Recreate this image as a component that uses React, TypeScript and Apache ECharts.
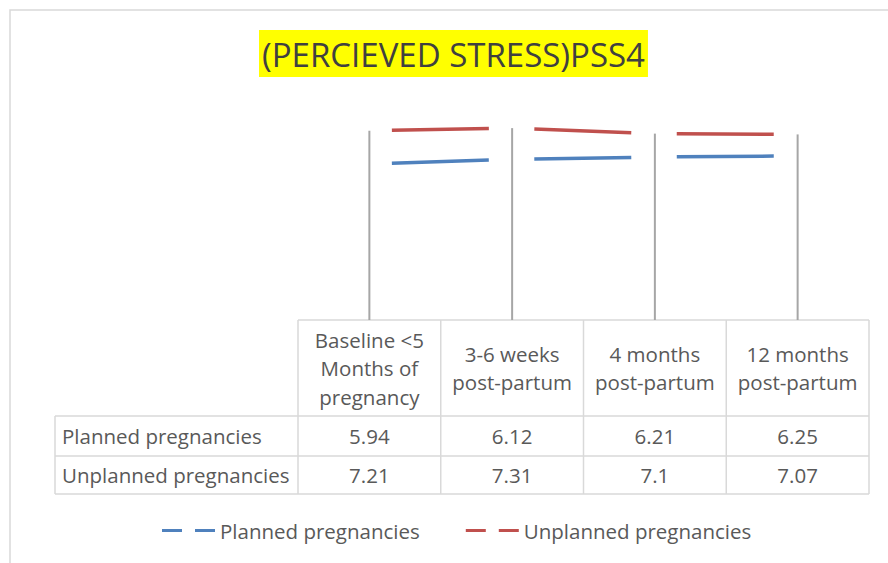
import React, { useEffect, useRef } from "react";
import * as echarts from "echarts";

const TITLE = "(PERCIEVED STRESS)PSS4";
const categories = [
  "Baseline <5\nMonths of\npregnancy",
  "3-6 weeks\npost-partum",
  "4 months\npost-partum",
  "12 months\npost-partum",
];
const seriesNames = ["Planned pregnancies", "Unplanned pregnancies"];
const planned = [5.94, 6.12, 6.21, 6.25];
const unplanned = [7.21, 7.31, 7.1, 7.07];
const tableLabels = ["5.94", "6.12", "6.21", "6.25"];
const tableLabels2 = ["7.21", "7.31", "7.1", "7.07"];

const W = 888;
const H = 563;
const FONT = "'Open Sans', sans-serif";
const TEXT = "#595959";
const FS = 20.5;
const GRID_L = 298;
const GRID_R = 869;
const GRID_TOP = 110;
const TABLE_TOP = 320;
const HEAD_BOTTOM = 416;
const ROW1_BOTTOM = 456;
const ROW2_BOTTOM = 494;
const LEFT_COL = 55;
const TBL = "#d9d9d9";
const LEGEND_ICON = "path://M0,0h20v3h-20z M33,0h20v3h-20z";

export default function App() {
  const ref = useRef<HTMLDivElement>(null);
  useEffect(() => {
    if (!ref.current) return;
    const chart = echarts.init(ref.current, undefined, { renderer: "svg" });
    const colW = (GRID_R - GRID_L) / categories.length;
    const graphics: any[] = [];
    graphics.push({
      type: "rect",
      shape: { x: 10, y: 10, width: W + 20, height: H + 20 },
      style: { fill: "none", stroke: "#d9d9d9", lineWidth: 1.5 },
      silent: true,
    });
    const hl = (x1: number, x2: number, y: number) =>
      graphics.push({ type: "line", shape: { x1, y1: y, x2, y2: y }, style: { stroke: TBL, lineWidth: 1.5 } });
    const vl = (x: number, y1: number, y2: number) =>
      graphics.push({ type: "line", shape: { x1: x, y1, x2: x, y2 }, style: { stroke: TBL, lineWidth: 1.5 } });
    hl(GRID_L, GRID_R, TABLE_TOP);
    hl(LEFT_COL, GRID_R, HEAD_BOTTOM);
    hl(LEFT_COL, GRID_R, ROW1_BOTTOM);
    hl(LEFT_COL, GRID_R, ROW2_BOTTOM);
    vl(LEFT_COL, HEAD_BOTTOM, ROW2_BOTTOM);
    for (let i = 0; i <= categories.length; i++) {
      vl(GRID_L + i * colW, TABLE_TOP, ROW2_BOTTOM);
    }
    const txtStyle = { fill: TEXT, fontFamily: FONT, fontSize: FS };
    categories.forEach((c, i) => {
      graphics.push({
        type: "text",
        x: GRID_L + (i + 0.5) * colW,
        y: (TABLE_TOP + HEAD_BOTTOM) / 2,
        style: { ...txtStyle, text: c, align: "center", verticalAlign: "middle", lineHeight: 28.5 },
      });
      graphics.push({
        type: "text",
        x: GRID_L + (i + 0.5) * colW,
        y: (HEAD_BOTTOM + ROW1_BOTTOM) / 2,
        style: { ...txtStyle, text: tableLabels[i], align: "center", verticalAlign: "middle" },
      });
      graphics.push({
        type: "text",
        x: GRID_L + (i + 0.5) * colW,
        y: (ROW1_BOTTOM + ROW2_BOTTOM) / 2,
        style: { ...txtStyle, text: tableLabels2[i], align: "center", verticalAlign: "middle" },
      });
    });
    seriesNames.forEach((n, r) => {
      graphics.push({
        type: "text",
        x: LEFT_COL + 7,
        y: r === 0 ? (HEAD_BOTTOM + ROW1_BOTTOM) / 2 : (ROW1_BOTTOM + ROW2_BOTTOM) / 2,
        style: { ...txtStyle, text: n, align: "left", verticalAlign: "middle" },
      });
    });

    const dash = [97, 45.5];
    const dashOffset = 119.5;
    const maxVals = planned.map((v, i) => [i, Math.max(v, unplanned[i])]);

    chart.setOption({
      animation: false,
      title: {
        text: TITLE,
        left: 259,
        top: 30,
        padding: [5, 3, 4, 3],
        backgroundColor: "#ffff00",
        textStyle: { color: "#404040", fontFamily: FONT, fontSize: 33, fontWeight: "normal", lineHeight: 38 },
      },
      grid: { left: GRID_L, right: W - GRID_R, top: GRID_TOP, bottom: H - TABLE_TOP },
      xAxis: {
        type: "category",
        data: categories,
        boundaryGap: true,
        axisLine: { show: false },
        axisTick: { show: false },
        axisLabel: { show: false },
      },
      yAxis: { type: "value", min: 0, max: 8, show: false, splitLine: { show: false } },
      legend: {
        left: 157,
        top: 515,
        itemWidth: 53,
        itemHeight: 3,
        itemGap: 46,
        icon: LEGEND_ICON,
        textStyle: { color: TEXT, fontFamily: FONT, fontSize: FS },
        data: seriesNames,
      },
      series: [
        {
          type: "custom",
          name: "drop",
          silent: true,
          data: maxVals,
          renderItem: (params: any, api: any) => {
            const top = api.coord([api.value(0), api.value(1)]);
            const base = api.coord([api.value(0), 0]);
            return {
              type: "line",
              shape: { x1: top[0], y1: top[1], x2: base[0], y2: base[1] },
              style: { stroke: "#a6a6a6", lineWidth: 2 },
            };
          },
        },
        {
          type: "line",
          name: seriesNames[0],
          data: planned,
          symbol: "none",
          color: "#4F81BD",
          lineStyle: { width: 3.5, color: "#4F81BD", type: dash, dashOffset },
        },
        {
          type: "line",
          name: seriesNames[1],
          data: unplanned,
          symbol: "none",
          color: "#C0504D",
          lineStyle: { width: 3.5, color: "#C0504D", type: dash, dashOffset },
        },
      ],
      graphic: graphics,
    });
    return () => chart.dispose();
  }, []);
  return (
    <div
      ref={ref}
      style={{ position: "fixed", left: 0, top: 0, width: W, height: H, background: "#fff" }}
    />
  );
}
